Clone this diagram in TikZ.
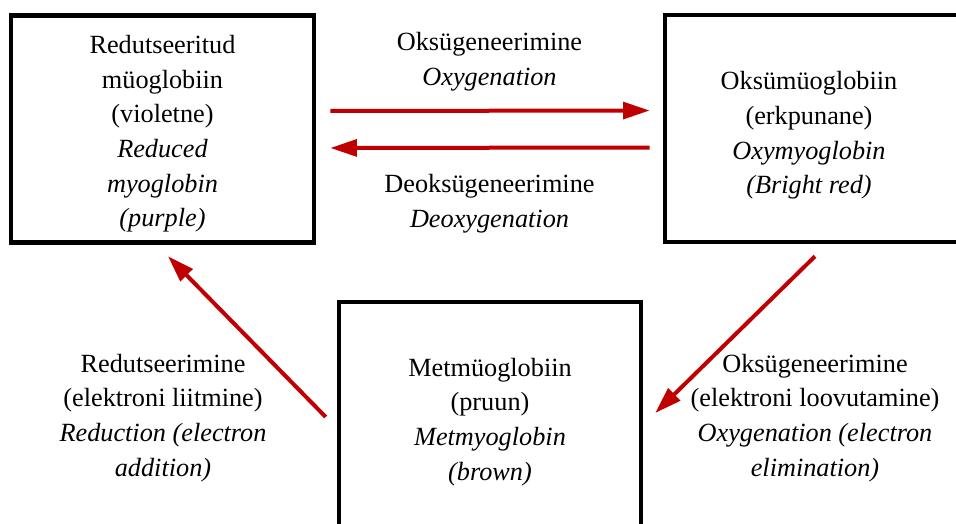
\documentclass[tikz,border=0pt]{standalone}
\usepackage{fontspec}
\setmainfont{Liberation Serif}
\usepackage{xcolor}
\usetikzlibrary{positioning,arrows.meta}
\definecolor{arrowred}{RGB}{192,0,0}
\tikzset{
    state/.style={draw, line width=3.4pt, inner sep=0pt},
    state text/.style={align=center, inner sep=0pt,
        font=\fontsize{19.7}{26}\selectfont},
    reaction/.style={draw=arrowred, line width=3pt,
        -{Triangle[length=20pt, width=12.5pt, fill=arrowred]}},
    reaction label/.style={align=center, inner sep=0pt,
        font=\fontsize{19.7}{26}\selectfont}
}

\begin{document}
\begin{tikzpicture}[x=0.75pt, y=-0.75pt]
    \useasboundingbox (0,0) rectangle (956,524);

    % Olekud
    \node[state, minimum width=227.25pt, minimum height=170.25pt] (lred) at (162.5,129) {};
    \node[state, minimum width=225pt, minimum height=170.25pt] (oxy) at (815,128.5) {};
    \node[state, minimum width=226.5pt, minimum height=180pt] (met) at (490,422) {};

    \node[state text] (lredtxt) at ([yshift=-3.75pt]lred.center)
        {Redutseeritud\\müoglobiin\\(violetne)\\\textit{Reduced}\\\textit{myoglobin}\\\textit{(purple)}};
    \node[state text] (oxytxt) at ([xshift=-4.5pt, yshift=-5.25pt]oxy.center)
        {Oksümüoglobiin\\(erkpunane)\\\textit{Oxymyoglobin}\\\textit{(Bright red)}};
    \node[state text] (mettxt) at (met.center)
        {Metmüoglobiin\\(pruun)\\\textit{Metmyoglobin}\\\textit{(brown)}};

    % Reaktsioonid
    \draw[reaction, shorten <=10.5pt, shorten >=9.75pt]
        ([yshift=13.5pt]lred.east) -- ([yshift=13.5pt]oxy.west);
    \draw[reaction, shorten <=9.75pt, shorten >=10.5pt]
        ([yshift=-14.25pt]oxy.west) -- ([yshift=-14.25pt]lred.east);
    \draw[reaction] ([xshift=-8.25pt, yshift=3.75pt]met.west) -- ([xshift=4.1pt, yshift=-8.6pt]lred.south);
    \draw[reaction] ([yshift=-9pt]oxy.south) -- ([xshift=9pt, yshift=6.75pt]met.east);

    % Siltid
    \node[reaction label] (oxlbl) at (489.5,62) {Oksügeneerimine\\\textit{Oxygenation}};
    \node[reaction label] (deoxlbl) at (489.5,204) {Deoksügeneerimine\\\textit{Deoxygenation}};
    \node[reaction label] (redlbl) at (163,418)
        {Redutseerimine\\(elektroni liitmine)\\\textit{Reduction (electron}\\\textit{addition)}};
    \node[reaction label] (elimlbl) at (815,418)
        {Oksügeneerimine\\(elektroni loovutamine)\\\textit{Oxygenation (electron}\\\textit{elimination)}};

\end{tikzpicture}
\end{document}
